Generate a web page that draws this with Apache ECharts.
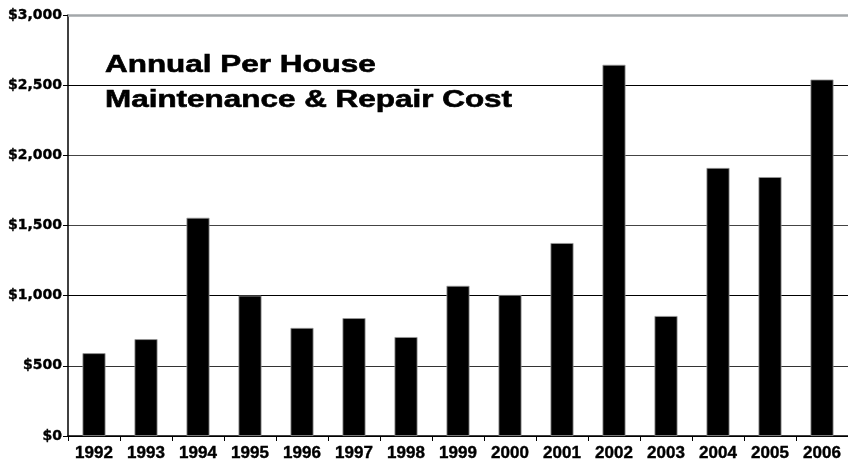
<!DOCTYPE html>
<html>
<head>
<meta charset="utf-8">
<title>Annual Per House Maintenance & Repair Cost</title>
<script src="https://cdn.jsdelivr.net/npm/echarts@6/dist/echarts.min.js"></script>
<style>
  html, body { margin: 0; padding: 0; background: #fff; }
  #main { width: 848px; height: 466px; }
</style>
</head>
<body>
<div id="main"></div>
<script>
  // data
  var years = ['1992', '1993', '1994', '1995', '1996', '1997', '1998', '1999',
               '2000', '2001', '2002', '2003', '2004', '2005', '2006']
  var costs = [590, 690, 1555, 1000, 770, 840, 705, 1070, 1005, 1375, 2645, 855, 1910, 1845, 2540]
  var yMin = 0
  var yMax = 3000
  var yStep = 500
  var titleLines = ['Annual Per House', 'Maintenance & Repair Cost']

  var chart = echarts.init(document.getElementById('main'))

  var option = {
    animation: false,
    backgroundColor: '#fff',
    grid: {
      left: 68,
      right: 0,
      top: 15,
      bottom: 30,
      containLabel: false,
      outerBoundsMode: 'none'
    },
    // title drawn as text, stretched sideways like the original
    graphic: [
      {
        type: 'text',
        x: 105,
        y: 83,
        scaleX: 1.31,
        style: {
          text: titleLines.join('\n'),
          font: 'bold 24px "Liberation Sans", Arial, sans-serif',
          lineHeight: 35,
          fill: '#000',
          stroke: '#000',
          lineWidth: 0.6,
          verticalAlign: 'middle'
        }
      }
    ],
    xAxis: {
      type: 'category',
      data: years,
      axisLine: { lineStyle: { color: '#000', width: 1.5 } },
      axisTick: { show: true, length: 5, lineStyle: { color: '#000', width: 1 } },
      axisLabel: {
        color: '#000',
        fontWeight: 'bold',
        fontSize: 17,
        fontFamily: '"Liberation Sans", Arial, sans-serif',
        textBorderColor: '#000',
        textBorderWidth: 0.4,
        margin: 9,
        interval: 0
      }
    },
    yAxis: {
      type: 'value',
      min: yMin,
      max: yMax,
      interval: yStep,
      axisLine: { show: true, lineStyle: { color: '#000', width: 1.5 } },
      axisTick: { show: true, length: 5, lineStyle: { color: '#000', width: 1 } },
      axisLabel: {
        color: '#000',
        fontWeight: 'bold',
        fontSize: 14,
        fontFamily: '"DejaVu Sans", sans-serif',
        textBorderColor: '#000',
        textBorderWidth: 0.4,
        margin: 6,
        formatter: function (v) {
          return '$' + v.toLocaleString('en-US')
        }
      },
      splitLine: {
        lineStyle: {
          color: ['#000', '#333', '#000', '#444', '#444', '#000', '#a3a7aa'],
          width: 1
        }
      }
    },
    series: [
      {
        name: 'Cost',
        type: 'bar',
        data: costs,
        barWidth: 23,
        itemStyle: {
          color: '#000',
          borderColor: '#999',
          borderWidth: 0.8
        },
        markLine: {
          silent: true,
          symbol: 'none',
          label: { show: false },
          lineStyle: { color: '#a3a7aa', width: 2.5, type: 'solid' },
          data: [{ yAxis: yMax }]
        }
      }
    ]
  }

  chart.setOption(option)
</script>
</body>
</html>
